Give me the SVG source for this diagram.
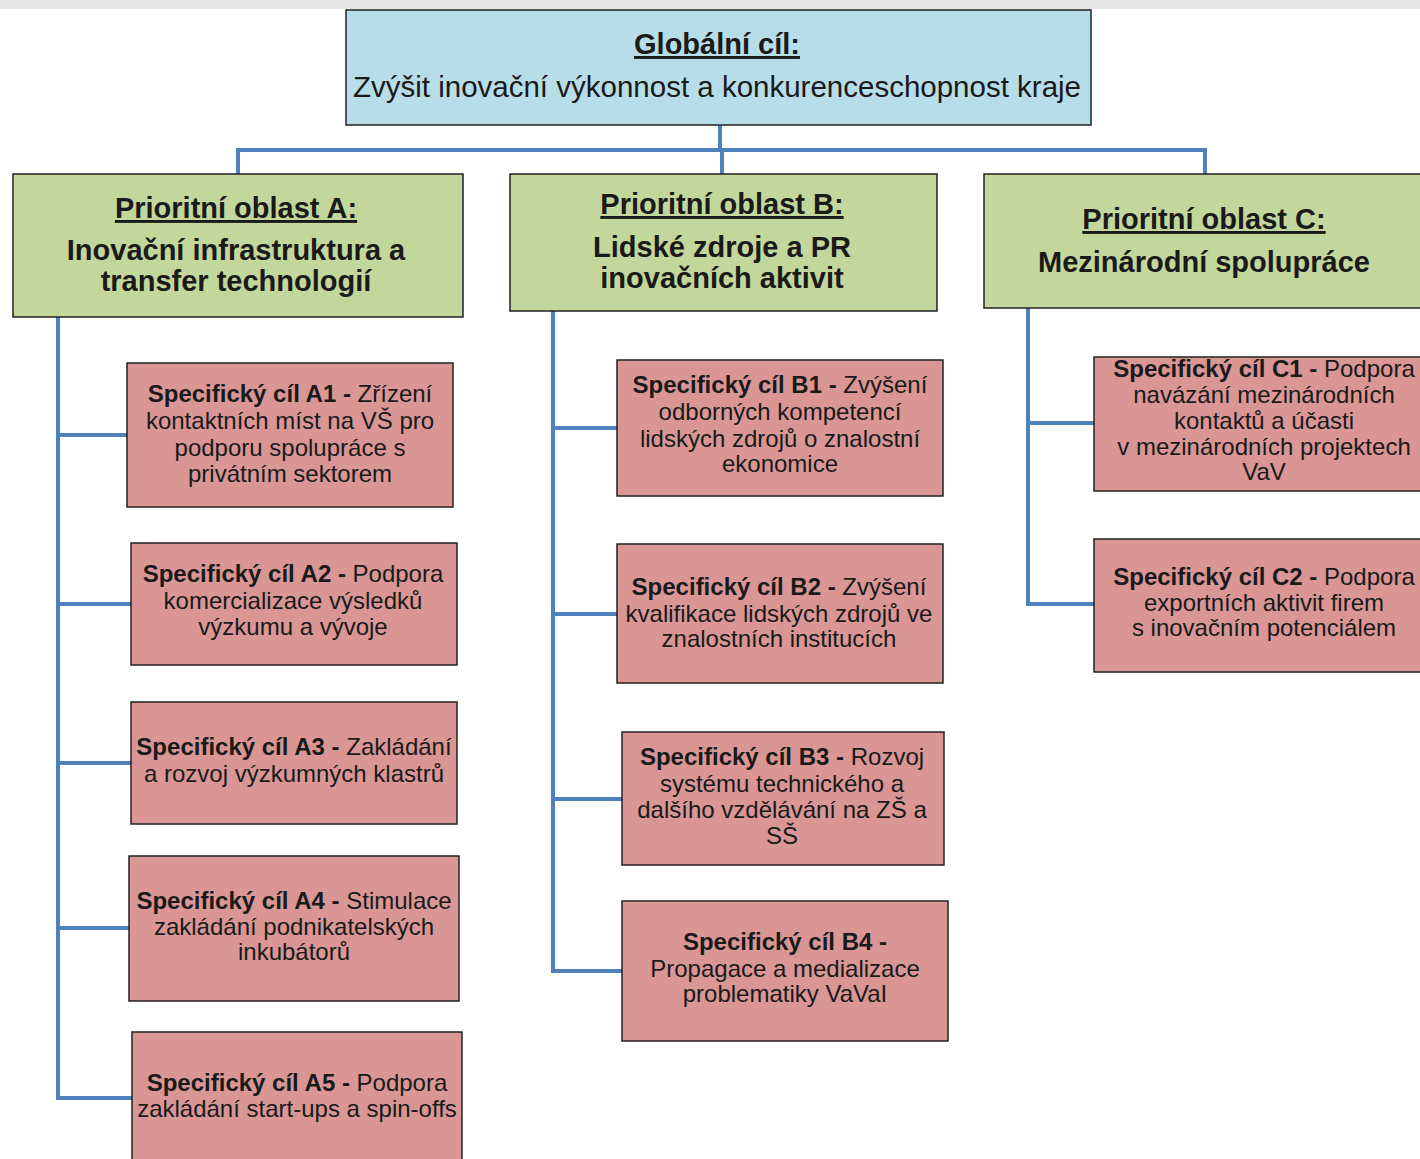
<svg xmlns="http://www.w3.org/2000/svg" width="1420" height="1159" viewBox="0 0 1420 1159">
<style>
text{font-family:"Liberation Sans",Arial,sans-serif;fill:#1a1a1a;text-anchor:middle}
.big{font-size:29px;font-weight:bold}
.bigr{font-size:29.5px}
.u{text-decoration:underline}
.sm{font-size:24px}
.b{font-weight:bold}
.glob{fill:#b7dde8;stroke:#222;stroke-width:1.5}
.pri{fill:#c3d69b;stroke:#222;stroke-width:1.5}
.spec{fill:#d99694;stroke:#222;stroke-width:1.5}
.con{fill:none;stroke:#4f81bd;stroke-width:4}
</style>
<rect x="0" y="0" width="1420" height="1159" fill="#ffffff"/>
<rect x="0" y="0" width="1420" height="9" fill="#e6e6e6"/>
<g id="connectors" class="con">
<path d="M720 125V150"/>
<path d="M238 174V150H1205V174"/>
<path d="M722 150V174"/>
<path d="M58 317V1098H133"/>
<path d="M58 435H127M58 604H131M58 763H131M58 928H129"/>
<path d="M553 311V971H622"/>
<path d="M553 428H617M553 614H617M553 799H622"/>
<path d="M1028 308V604H1094"/>
<path d="M1028 423H1094"/>
</g>
<g id="global">
<rect class="glob" x="346" y="10" width="745" height="115"/>
<text class="big u" x="717" y="54">Globální cíl:</text>
<text class="bigr" x="717" y="97">Zvýšit inovační výkonnost a konkurenceschopnost kraje</text>
</g>
<g id="prioA">
<rect class="pri" x="13" y="174" width="450" height="143"/>
<text class="big u" x="236" y="218">Prioritní oblast A:</text>
<text class="big" x="236" y="260">Inovační infrastruktura a</text>
<text class="big" x="236" y="291">transfer technologií</text>
</g>
<g id="prioB">
<rect class="pri" x="510" y="174" width="427" height="137"/>
<text class="big u" x="722" y="214">Prioritní oblast B:</text>
<text class="big" x="722" y="257">Lidské zdroje a PR</text>
<text class="big" x="722" y="288">inovačních aktivit</text>
</g>
<g id="prioC">
<rect class="pri" x="984" y="174" width="445" height="134"/>
<text class="big u" x="1204" y="229">Prioritní oblast C:</text>
<text class="big" x="1204" y="272">Mezinárodní spolupráce</text>
</g>
<g id="A1">
<rect class="spec" x="127" y="363" width="326" height="144"/>
<text class="sm" x="290" y="402"><tspan class="b">Specifický cíl A1 -</tspan> Zřízení</text>
<text class="sm" x="290" y="429">kontaktních míst na VŠ pro</text>
<text class="sm" x="290" y="456">podporu spolupráce s</text>
<text class="sm" x="290" y="482">privátním sektorem</text>
</g>
<g id="A2">
<rect class="spec" x="131" y="543" width="326" height="122"/>
<text class="sm" x="293" y="582"><tspan class="b">Specifický cíl A2 -</tspan> Podpora</text>
<text class="sm" x="293" y="609">komercializace výsledků</text>
<text class="sm" x="293" y="635">výzkumu a vývoje</text>
</g>
<g id="A3">
<rect class="spec" x="131" y="702" width="326" height="122"/>
<text class="sm" x="294" y="755"><tspan class="b">Specifický cíl A3 -</tspan> Zakládání</text>
<text class="sm" x="294" y="782">a rozvoj výzkumných klastrů</text>
</g>
<g id="A4">
<rect class="spec" x="129" y="856" width="330" height="145"/>
<text class="sm" x="294" y="909"><tspan class="b">Specifický cíl A4 -</tspan> Stimulace</text>
<text class="sm" x="294" y="935">zakládání podnikatelských</text>
<text class="sm" x="294" y="960">inkubátorů</text>
</g>
<g id="A5">
<rect class="spec" x="132" y="1032" width="330" height="140"/>
<text class="sm" x="297" y="1091"><tspan class="b">Specifický cíl A5 -</tspan> Podpora</text>
<text class="sm" x="297" y="1117">zakládání start-ups a spin-offs</text>
</g>
<g id="B1">
<rect class="spec" x="617" y="360" width="326" height="136"/>
<text class="sm" x="780" y="393"><tspan class="b">Specifický cíl B1 -</tspan> Zvýšení</text>
<text class="sm" x="780" y="420">odborných kompetencí</text>
<text class="sm" x="780" y="447">lidských zdrojů o znalostní</text>
<text class="sm" x="780" y="472">ekonomice</text>
</g>
<g id="B2">
<rect class="spec" x="617" y="544" width="326" height="139"/>
<text class="sm" x="779" y="595"><tspan class="b">Specifický cíl B2 -</tspan> Zvýšení</text>
<text class="sm" x="779" y="622">kvalifikace lidských zdrojů ve</text>
<text class="sm" x="779" y="647">znalostních institucích</text>
</g>
<g id="B3">
<rect class="spec" x="622" y="732" width="322" height="133"/>
<text class="sm" x="782" y="765"><tspan class="b">Specifický cíl B3 -</tspan> Rozvoj</text>
<text class="sm" x="782" y="792">systému technického a</text>
<text class="sm" x="782" y="818">dalšího vzdělávání na ZŠ a</text>
<text class="sm" x="782" y="844">SŠ</text>
</g>
<g id="B4">
<rect class="spec" x="622" y="901" width="326" height="140"/>
<text class="sm b" x="785" y="950">Specifický cíl B4 -</text>
<text class="sm" x="785" y="977">Propagace a medializace</text>
<text class="sm" x="785" y="1002">problematiky VaVaI</text>
</g>
<g id="C1">
<rect class="spec" x="1094" y="357" width="340" height="134"/>
<text class="sm" x="1264" y="377"><tspan class="b">Specifický cíl C1 -</tspan> Podpora</text>
<text class="sm" x="1264" y="403">navázání mezinárodních</text>
<text class="sm" x="1264" y="429">kontaktů a účasti</text>
<text class="sm" x="1264" y="455">v mezinárodních projektech</text>
<text class="sm" x="1264" y="480">VaV</text>
</g>
<g id="C2">
<rect class="spec" x="1094" y="539" width="340" height="133"/>
<text class="sm" x="1264" y="585"><tspan class="b">Specifický cíl C2 -</tspan> Podpora</text>
<text class="sm" x="1264" y="611">exportních aktivit firem</text>
<text class="sm" x="1264" y="636">s inovačním potenciálem</text>
</g>
</svg>
